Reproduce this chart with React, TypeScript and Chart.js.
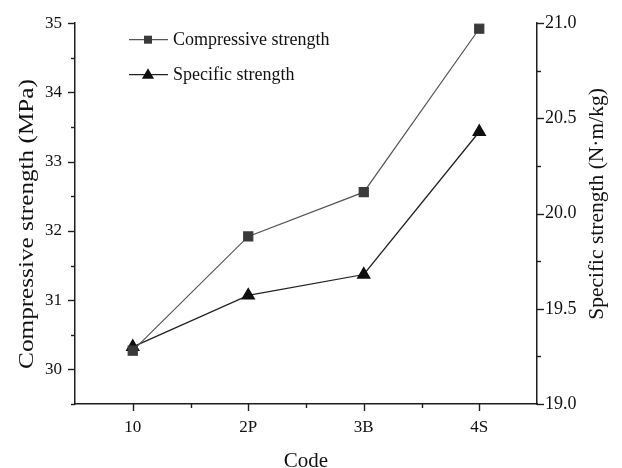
import { useEffect, useRef } from "react";
import { Chart, registerables } from "chart.js";

Chart.register(...registerables);

const codes = ["10", "2P", "3B", "4S"];
const compressiveStrength = [30.27, 31.92, 32.56, 34.92];
const specificStrength = [19.3, 19.57, 19.68, 20.43];
const leftTicks = [30, 31, 32, 33, 34, 35];
const rightTicks = [19.0, 19.5, 20.0, 20.5, 21.0];

const seriesNames = ["Compressive strength", "Specific strength"];
const xTitle = "Code";
const leftTitle = "Compressive strength (MPa)";
const rightTitle = "Specific strength (N·m/kg)";

const FONT = "'Liberation Serif', 'Times New Roman', serif";
const AXIS = "#1e1e1e";
const SQUARE_COLOR = "#3a3a3a";
const SQUARE_LINE = "#555555";
const TRI_COLOR = "#0f0f0f";
const TRI_LINE = "#222222";

function drawSquare(ctx: CanvasRenderingContext2D, x: number, y: number, s: number, c: string) {
  ctx.fillStyle = c;
  ctx.fillRect(x - s / 2, y - s / 2, s, s);
}

function drawTriangle(ctx: CanvasRenderingContext2D, x: number, y: number, r: number, c: string) {
  ctx.fillStyle = c;
  ctx.beginPath();
  ctx.moveTo(x, y - r);
  ctx.lineTo(x + r * Math.sin(Math.PI / 3), y + r / 2);
  ctx.lineTo(x - r * Math.sin(Math.PI / 3), y + r / 2);
  ctx.closePath();
  ctx.fill();
}

// Outward major/minor tick marks, axis titles and the in-plot legend.
const decorations = {
  id: "decorations",
  afterDraw(chart: any) {
    const ctx: CanvasRenderingContext2D = chart.ctx;
    const area = chart.chartArea;
    const xs = chart.scales.x;
    const yl = chart.scales.y;
    const yr = chart.scales.y1;
    ctx.save();
    ctx.strokeStyle = AXIS;
    ctx.lineWidth = 1.4;

    const major = 7;
    const minor = 4;

    // left axis: unit majors, half-unit minors
    for (let v = yl.min; v <= yl.max + 1e-9; v += 0.5) {
      const y = Math.round(yl.getPixelForValue(v)) + 0.5;
      const len = Math.abs(v - Math.round(v)) < 1e-6 ? major : minor;
      ctx.beginPath();
      ctx.moveTo(area.left, y);
      ctx.lineTo(area.left - len, y);
      ctx.stroke();
    }
    // right axis: 0.5 majors, 0.25 minors
    for (let v = yr.min; v <= yr.max + 1e-9; v += 0.25) {
      const y = Math.round(yr.getPixelForValue(v)) + 0.5;
      const len = Math.abs(v * 2 - Math.round(v * 2)) < 1e-6 ? major : minor;
      ctx.beginPath();
      ctx.moveTo(area.right, y);
      ctx.lineTo(area.right + len, y);
      ctx.stroke();
    }
    // bottom axis: category majors, minors between categories
    for (let i = 0; i < codes.length; i++) {
      const x = Math.round(xs.getPixelForValue(i)) + 0.5;
      ctx.beginPath();
      ctx.moveTo(x, area.bottom);
      ctx.lineTo(x, area.bottom + major);
      ctx.stroke();
      if (i < codes.length - 1) {
        const xm = Math.round((xs.getPixelForValue(i) + xs.getPixelForValue(i + 1)) / 2) + 0.5;
        ctx.beginPath();
        ctx.moveTo(xm, area.bottom);
        ctx.lineTo(xm, area.bottom + minor);
        ctx.stroke();
      }
    }

    // axis titles
    ctx.fillStyle = "#111";
    ctx.textAlign = "center";
    ctx.textBaseline = "middle";
    ctx.save();
    ctx.font = `21px ${FONT}`;
    ctx.translate(27, 224);
    ctx.rotate(-Math.PI / 2);
    ctx.scale(1.2, 1);
    ctx.fillText(leftTitle, 0, 0);
    ctx.restore();
    ctx.save();
    ctx.font = `21.5px ${FONT}`;
    ctx.translate(597, 204);
    ctx.rotate(-Math.PI / 2);
    ctx.fillText(rightTitle, 0, 0);
    ctx.restore();
    ctx.font = `21px ${FONT}`;
    ctx.fillText(xTitle, (area.left + area.right) / 2, 461);

    // legend
    const rows = [
      { y: area.top + 16, kind: "square" },
      { y: area.top + 51, kind: "triangle" },
    ];
    ctx.font = `18px ${FONT}`;
    ctx.textAlign = "left";
    rows.forEach((row, i) => {
      ctx.strokeStyle = i === 0 ? SQUARE_LINE : TRI_LINE;
      ctx.lineWidth = 1.3;
      ctx.beginPath();
      ctx.moveTo(area.left + 54, row.y + 0.5);
      ctx.lineTo(area.left + 93, row.y + 0.5);
      ctx.stroke();
      if (row.kind === "square") drawSquare(ctx, area.left + 73, row.y + 0.5, 8, SQUARE_COLOR);
      else drawTriangle(ctx, area.left + 73, row.y + 1, 7, TRI_COLOR);
      ctx.fillStyle = "#111";
      ctx.fillText(seriesNames[i], area.left + 98, row.y + 1);
    });
    ctx.restore();
  },
};

export default function App() {
  const canvasRef = useRef<HTMLCanvasElement | null>(null);

  useEffect(() => {
    const canvas = canvasRef.current;
    if (!canvas) return;
    const chart = new Chart(canvas, {
      type: "line",
      data: {
        labels: codes,
        datasets: [
          {
            label: seriesNames[0],
            data: compressiveStrength,
            yAxisID: "y",
            borderColor: SQUARE_LINE,
            backgroundColor: SQUARE_COLOR,
            pointBackgroundColor: SQUARE_COLOR,
            pointBorderColor: SQUARE_COLOR,
            pointStyle: "rect",
            pointRadius: 6.4,
            borderWidth: 1.2,
            tension: 0,
          },
          {
            label: seriesNames[1],
            data: specificStrength,
            yAxisID: "y1",
            borderColor: TRI_LINE,
            backgroundColor: TRI_COLOR,
            pointBackgroundColor: TRI_COLOR,
            pointBorderColor: TRI_COLOR,
            pointStyle: "triangle",
            pointRadius: 7,
            borderWidth: 1.3,
            tension: 0,
          },
        ],
      },
      options: {
        animation: false,
        responsive: false,
        maintainAspectRatio: false,
        layout: { padding: { top: 19, left: 0, right: 0, bottom: 0 } },
        plugins: {
          legend: { display: false },
          tooltip: { enabled: false },
          title: { display: false },
        },
        scales: {
          x: {
            type: "category",
            offset: true,
            grid: { display: false, drawTicks: false },
            border: { display: true, color: AXIS, width: 1.5 },
            ticks: { color: "#111", font: { family: FONT, size: 17 }, padding: 13, maxRotation: 0 },
            afterFit: (s: any) => {
              s.height = 64;
            },
          },
          y: {
            type: "linear",
            position: "left",
            min: 29.5,
            max: 35,
            grid: { display: false, drawTicks: false },
            border: { display: true, color: AXIS, width: 1.5 },
            ticks: { color: "#111", font: { family: FONT, size: 17 }, padding: 13 },
            afterBuildTicks: (s: any) => {
              s.ticks = leftTicks.map((v) => ({ value: v }));
            },
            afterFit: (s: any) => {
              s.width = 75;
            },
          },
          y1: {
            type: "linear",
            position: "right",
            min: 19,
            max: 21,
            grid: { display: false, drawTicks: false },
            border: { display: true, color: AXIS, width: 1.5 },
            ticks: {
              color: "#111",
              font: { family: FONT, size: 18 },
              padding: 8,
              callback: (v: any) => Number(v).toFixed(1),
            },
            afterBuildTicks: (s: any) => {
              s.ticks = rightTicks.map((v) => ({ value: v }));
            },
            afterFit: (s: any) => {
              s.width = 85;
            },
          },
        },
      },
      plugins: [decorations],
    });
    return () => chart.destroy();
  }, []);

  return (
    <div style={{ position: "absolute", left: 0, top: 0, width: 622, height: 468, background: "#fff" }}>
      <canvas ref={canvasRef} width={622} height={468} style={{ display: "block" }} />
    </div>
  );
}
